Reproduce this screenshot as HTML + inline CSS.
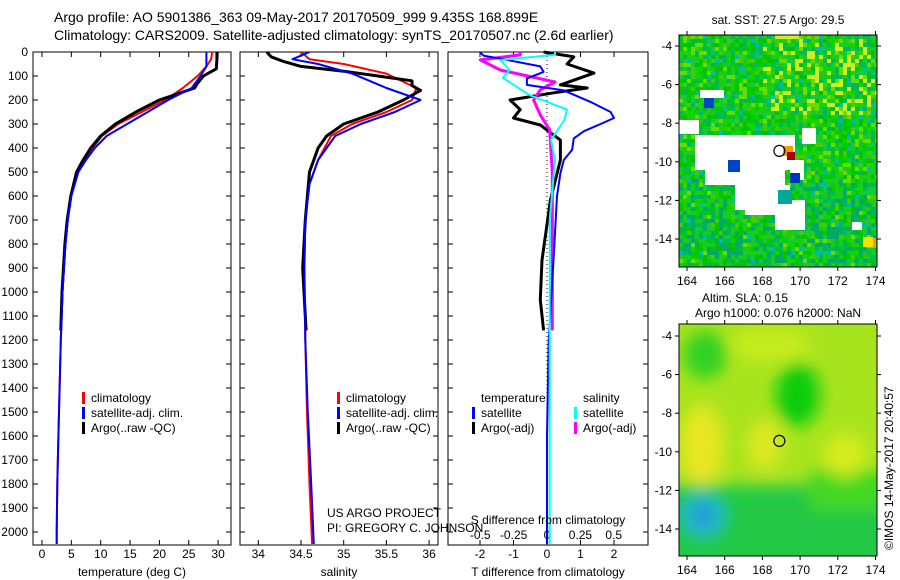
<!DOCTYPE html>
<html><head><meta charset="utf-8"><style>
html,body{margin:0;padding:0;background:#fff;}
svg{display:block;font-family:"Liberation Sans",sans-serif;}
text{fill:#000;}
</style></head><body>
<svg id="fig" width="900" height="580" viewBox="0 0 900 580" xmlns="http://www.w3.org/2000/svg">
<defs>
<filter id="blur8" x="-50%" y="-50%" width="200%" height="200%"><feGaussianBlur stdDeviation="8"/></filter>
<clipPath id="clipm1"><rect x="679" y="35" width="198" height="232"/></clipPath>
<clipPath id="clipm2"><rect x="679" y="324" width="198" height="232"/></clipPath>
</defs>
<g font-size="14">
<text x="54" y="22">Argo profile: AO 5901386_363 09-May-2017 20170509_999 9.435S 168.899E</text>
<text x="54" y="40">Climatology: CARS2009. Satellite-adjusted climatology: synTS_20170507.nc (2.6d earlier)</text>
</g>
<g id="panels"></g>
<g id="maps"></g>
<text font-size="12" transform="translate(893,550) rotate(-90)">©IMOS 14-May-2017 20:40:57</text>
</svg>
<script>
// ---------- profile data ----------
const tDepthClim = [0,30,60,100,150,200,250,300,350,400,450,500,600,700,800,1000,1200,1400,1600,1800,2000,2050];
const tempClim   = [29.0,28.8,28.0,26.5,24.0,21.0,17.0,13.0,10.2,8.6,7.2,6.1,5.0,4.4,4.0,3.5,3.2,3.0,2.8,2.6,2.5,2.5];
const tempSat    = [28.0,28.0,28.0,27.0,25.5,21.5,18.0,14.5,11.0,9.0,7.5,6.2,5.0,4.4,4.0,3.5,3.2,3.0,2.8,2.6,2.5,2.5];
const tDepthArgo = [0,30,70,100,130,150,175,200,250,300,350,400,450,500,600,700,800,1000,1160];
const tempArgo   = [29.8,29.8,29.7,27.5,26.5,26.0,23.0,20.0,16.0,12.5,10.0,8.3,7.0,5.9,4.9,4.3,3.9,3.4,3.2];

const sDepthClim = [0,30,50,90,150,200,250,300,350,450,550,700,900,1200,1500,1800,2050];
const salClim    = [34.5,34.6,35.0,35.5,35.85,35.8,35.5,35.1,34.85,34.7,34.6,34.55,34.54,34.55,34.57,34.6,34.63];
const salSat     = [34.6,34.4,34.7,35.1,35.5,35.9,35.6,35.2,34.9,34.7,34.6,34.55,34.54,34.55,34.58,34.62,34.65];
const sDepthArgo = [0,20,40,60,80,100,120,140,160,200,250,300,350,400,450,500,700,900,1100,1160];
const salArgo    = [34.1,34.15,34.3,34.5,35.0,35.4,35.8,35.8,35.9,35.7,35.4,35.0,34.8,34.7,34.65,34.6,34.55,34.52,34.55,34.56];

const dDepth     = [0,15,30,60,83,110,137,160,208,250,275,300,330,360,408,450,505,600,854,1200,1600,2050];
const tDiffSat   = [-2.0,-1.9,-1.3,-0.2,-0.1,-0.6,-0.6,0.5,1.3,1.9,2.0,1.6,1.1,0.8,0.75,0.5,0.4,0.3,0.2,0.05,0.0,0.0];
const dDepthArgo = [0,20,50,88,137,150,170,200,240,275,304,367,450,617,867,1033,1160];
const tDiffArgo  = [-0.1,0.8,0.6,1.4,0.4,1.2,0.2,-1.1,-0.8,-1.0,-0.2,0.4,0.4,0.1,-0.15,-0.2,-0.1];
const sDepthDiff = [0,12,33,75,108,180,240,283,367,450,700,1200,1600,2050];
const sDiffSat   = [0.06,0.06,-0.35,-0.28,-0.33,-0.13,0.15,0.13,0.03,0.06,0.02,0.02,0.02,0.02];
const sDepthDiffArgo = [0,12,33,75,125,158,200,262,325,500,800,1160];
const sDiffArgo  = [-0.2,-0.2,-0.5,-0.35,0.06,-0.05,-0.1,-0.05,0.02,0.04,0.04,0.04];

// tick labels
const depthTicks = [0,100,200,300,400,500,600,700,800,900,1000,1100,1200,1300,1400,1500,1600,1700,1800,1900,2000];
const tempTicks = [0,5,10,15,20,25,30];
const salTicks = [34,34.5,35,35.5,36];
const tdTicks = [-2,-1,0,1,2];
const sdTicks = [-0.5,-0.25,0,0.25,0.5];
const lonTicks = [164,166,168,170,172,174];
const latTicks = [-4,-6,-8,-10,-12,-14];

// ---------- helpers ----------
const NS='http://www.w3.org/2000/svg';
function mk(tag, attrs, parent){const e=document.createElementNS(NS,tag);for(const k in attrs)e.setAttribute(k,attrs[k]);parent.appendChild(e);return e;}
function txt(s,attrs,parent){const e=mk('text',attrs,parent);e.textContent=s;return e;}
const yD = d => 52 + d*0.24;
const xT = t => 42 + t*5.87;
const xS = s => 301 + (s-34.5)*85.4;
const xTD = v => 547 + v*33.5;
const xSD = v => 547 + v*133.5;
const panels=document.getElementById('panels');

function frame(x0,x1,name){
  const g=mk('g',{},panels);
  
  
  mk('rect',{x:x0,y:52,width:x1-x0,height:493,fill:'none',stroke:'#000','stroke-width':1},g);
  return g;
}
function line(g,xs,ys,fx,color,w,name,dash){
  const p=mk('polyline',{points:xs.map((v,i)=>fx(v).toFixed(1)+','+yD(ys[i]).toFixed(1)).join(' '),fill:'none',stroke:color,'stroke-width':w,'stroke-linejoin':'round'},g);
  if(dash)p.setAttribute('stroke-dasharray',dash);
  
  
}
function xticks(g,ticks,fx,y,labelFn){
  ticks.forEach(t=>{const x=fx(t);
    mk('line',{x1:x,x2:x,y1:545,y2:540,stroke:'#000'},g);
    mk('line',{x1:x,x2:x,y1:52,y2:57,stroke:'#000'},g);
    const e=txt(labelFn?labelFn(t):String(t),{x:x,y:y,'font-size':12,'text-anchor':'middle'},g);
    
    
  });
}
function legend(g,x,y,items){
  items.forEach((it,i)=>{
    mk('rect',{x:x,y:y+i*15-10,width:3,height:12,fill:it[1]},g);
    const e=txt(it[0],{x:x+9,y:y+i*15,'font-size':12},g);
    
    
  });
}

// Panel 1 temperature
const g1=frame(33,231,'temperature-panel');
depthTicks.forEach(d=>{
  mk('line',{x1:33,x2:38,y1:yD(d),y2:yD(d),stroke:'#000'},g1);
  mk('line',{x1:231,x2:226,y1:yD(d),y2:yD(d),stroke:'#000'},g1);
  const e=txt(String(d),{x:28,y:yD(d)+4,'font-size':12,'text-anchor':'end'},g1);
  
  
});
xticks(g1,tempTicks,xT,558);
line(g1,tempClim,tDepthClim,xT,'#f00',2,'temp-climatology');
line(g1,tempArgo,tDepthArgo,xT,'#000',3,'temp-argo');
line(g1,tempSat,tDepthClim,xT,'#00f',2,'temp-satellite');
legend(g1,82,402,[['climatology','#f00'],['satellite-adj. clim.','#00f'],['Argo(..raw -QC)','#000']]);
txt('temperature (deg C)',{x:132,y:576,'font-size':12,'text-anchor':'middle'},g1);

// Panel 2 salinity
const g2=frame(240,438,'salinity-panel');
depthTicks.forEach(d=>{
  mk('line',{x1:240,x2:245,y1:yD(d),y2:yD(d),stroke:'#000'},g2);
  mk('line',{x1:438,x2:433,y1:yD(d),y2:yD(d),stroke:'#000'},g2);
});
xticks(g2,salTicks,xS,558);
line(g2,salClim,sDepthClim,xS,'#f00',2,'sal-climatology');
line(g2,salArgo,sDepthArgo,xS,'#000',3,'sal-argo');
line(g2,salSat,sDepthClim,xS,'#00f',2,'sal-satellite');
legend(g2,337,402,[['climatology','#f00'],['satellite-adj. clim.','#00f'],['Argo(..raw -QC)','#000']]);
txt('salinity',{x:339,y:576,'font-size':12,'text-anchor':'middle'},g2);
txt('US ARGO PROJECT',{x:327,y:517,'font-size':12},g2);
txt('PI: GREGORY C. JOHNSON',{x:327,y:532,'font-size':12},g2);

// Panel 3 differences
const g3=frame(448,648,'difference-panel');
depthTicks.forEach(d=>{
  mk('line',{x1:448,x2:453,y1:yD(d),y2:yD(d),stroke:'#000'},g3);
  mk('line',{x1:648,x2:643,y1:yD(d),y2:yD(d),stroke:'#000'},g3);
});
mk('line',{x1:547,x2:547,y1:52,y2:545,stroke:'#000','stroke-dasharray':'1,3'},g3);
xticks(g3,tdTicks,xTD,558);
sdTicks.forEach(t=>{const e=txt(String(t),{x:xSD(t),y:539,'font-size':12,'text-anchor':'middle'},g3);});
line(g3,tDiffArgo,dDepthArgo,xTD,'#000',3,'tdiff-argo');
line(g3,sDiffArgo,sDepthDiffArgo,xSD,'#f0f',3,'sdiff-argo');
line(g3,tDiffSat,dDepth,xTD,'#00f',2,'tdiff-satellite');
line(g3,sDiffSat,sDepthDiff,xSD,'#0ff',2,'sdiff-satellite');
txt('temperature',{x:481,y:402,'font-size':12},g3);
txt('salinity',{x:583,y:402,'font-size':12},g3);
legend(g3,472,417,[['satellite','#00f'],['Argo(-adj)','#000']]);
legend(g3,574,417,[['satellite','#0ff'],['Argo(-adj)','#f0f']]);
txt('S difference from climatology',{x:548,y:524,'font-size':12,'text-anchor':'middle'},g3);
txt('T difference from climatology',{x:548,y:576,'font-size':12,'text-anchor':'middle'},g3);

// ---------- maps ----------
const maps=document.getElementById('maps');
function mapAxes(g,y0,yLat4,yLat14){
  const fy=lat=>yLat4+(lat+4)/-10*(yLat14-yLat4);
  const fx=lon=>687+(lon-164)*18.85;
  mk('rect',{x:679,y:y0,width:198,height:232,fill:'none',stroke:'#000'},g);
  lonTicks.forEach(l=>{const x=fx(l);
    mk('line',{x1:x,x2:x,y1:y0+232,y2:y0+236,stroke:'#000'},g);
    mk('line',{x1:x,x2:x,y1:y0,y2:y0-4,stroke:'#000'},g);
    txt(String(l),{x:x,y:y0+250,'font-size':12,'text-anchor':'middle'},g);});
  latTicks.forEach(l=>{const y=fy(l);
    mk('line',{x1:679,x2:675,y1:y,y2:y,stroke:'#000'},g);
    mk('line',{x1:877,x2:881,y1:y,y2:y,stroke:'#000'},g);
    txt(String(l),{x:672,y:y+4,'font-size':12,'text-anchor':'end'},g);});
  mk('circle',{cx:fx(168.9),cy:fy(-9.435),r:5.5,fill:'none',stroke:'#000','stroke-width':1.2},g);
}
// map1 SST
const m1=mk('g',{},maps);


txt('sat. SST: 27.5 Argo: 29.5',{x:778,y:24,'font-size':12,'text-anchor':'middle'},m1);
const c1=mk('g',{'clip-path':'url(#clipm1)'},m1);
mk('rect',{x:679,y:35,width:198,height:232,fill:'#11c811'},c1);
const pal=['#00cc00','#22c822','#00bb44','#11d400','#66dd00','#00c800','#00b855','#11cc33','#00c000','#44cc00'];
for(let i=0;i<50;i++)for(let j=0;j<58;j++){
  const h=((i*73856093)^(j*19349663))>>>0;const k=h%29;
  let c=pal[k%10];
  if(j<20 && i>20 && k%5==0) c='#ccee22';
  if(j>35 && k%4==0) c='#00aa66';
  if(k==28) c='#00bbaa';
  mk('rect',{x:679+i*4,y:35+j*4,width:4,height:4,fill:c},c1);
}
[[695,135,100,35],[705,155,75,30],[735,165,50,45],[745,185,45,30],[775,200,30,30],[790,160,14,20],[679,120,20,14],[700,90,24,8],[802,128,14,16],[852,222,10,8]].forEach(r=>mk('rect',{x:r[0],y:r[1],width:r[2],height:r[3],fill:'#fff'},c1));
mk('rect',{x:778,y:190,width:14,height:14,fill:'#00a89a'},c1);
[[783,146,5,'#ff9900'],[787,152,4,'#aa0000'],[866,238,5,'#ff9900'],[704,98,5,'#0044cc'],[728,160,6,'#0044cc'],[790,173,5,'#0033bb'],[863,237,5,'#ffdd00']].forEach(b=>mk('rect',{x:b[0],y:b[1],width:b[2]*2,height:b[2]*2,fill:b[3]},c1));
mapAxes(m1,35,46,239);
// map2 SLA
const m2=mk('g',{},maps);


txt('Altim. SLA: 0.15',{x:745,y:302,'font-size':12,'text-anchor':'middle'},m2);
txt('Argo h1000: 0.076 h2000: NaN',{x:778,y:317,'font-size':12,'text-anchor':'middle'},m2);
const c2=mk('g',{'clip-path':'url(#clipm2)'},m2);
mk('rect',{x:679,y:324,width:198,height:232,fill:'#a8e41e'},c2);
const bg=mk('g',{filter:'url(#blur8)'},c2);
mk('rect',{x:660,y:485,width:240,height:100,fill:'#22c844'},bg);
mk('rect',{x:810,y:470,width:90,height:40,fill:'#44d822'},bg);
mk('ellipse',{cx:798,cy:395,rx:22,ry:32,fill:'#11cc11'},bg);
mk('ellipse',{cx:705,cy:355,rx:22,ry:24,fill:'#33d222'},bg);
mk('ellipse',{cx:770,cy:345,rx:40,ry:16,fill:'#c8ec1e'},bg);
mk('ellipse',{cx:702,cy:445,rx:22,ry:40,fill:'#e8e622'},bg);
mk('ellipse',{cx:765,cy:445,rx:18,ry:25,fill:'#dce822'},bg);
mk('ellipse',{cx:845,cy:455,rx:22,ry:22,fill:'#d4ec1a'},bg);
mk('ellipse',{cx:703,cy:515,rx:22,ry:22,fill:'#22bbcc'},bg);
mk('ellipse',{cx:703,cy:515,rx:10,ry:10,fill:'#2288dd'},bg);
mapAxes(m2,324,336,529);
</script>
</body></html>
